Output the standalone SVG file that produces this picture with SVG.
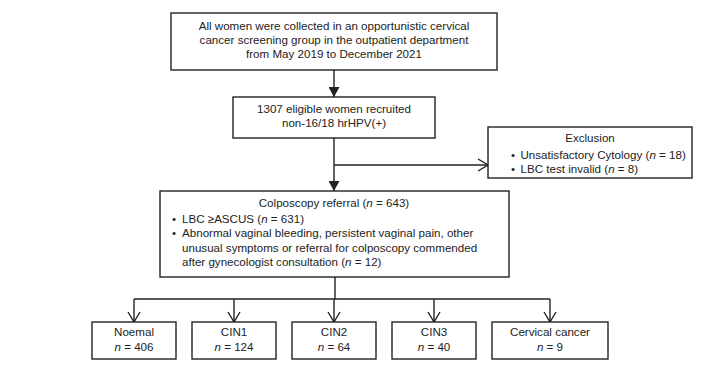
<svg xmlns="http://www.w3.org/2000/svg" width="725" height="366" viewBox="0 0 725 366">
<style>
  .box{fill:#fff;stroke:#222;stroke-width:1.4}
  .ln{fill:none;stroke:#222;stroke-width:1.4}
  text{font-family:"Liberation Sans",Arial,sans-serif;font-size:11.6px;fill:#222}
  .c{text-anchor:middle}
  .i{font-style:italic}
</style>
<defs>
  <marker id="af" viewBox="0 0 10 11" refX="10" refY="5.5" markerWidth="10" markerHeight="11" markerUnits="userSpaceOnUse" orient="auto">
    <path d="M0,0 L10,5.5 L0,11 z" fill="#222"/>
  </marker>
  <marker id="ao" viewBox="-1 -1 12 14" refX="10" refY="6" markerWidth="12" markerHeight="14" markerUnits="userSpaceOnUse" orient="auto">
    <path d="M0,0 L10,6 L0,12" fill="none" stroke="#222" stroke-width="1.4"/>
  </marker>
</defs>
<rect width="725" height="366" fill="#fff"/>
<g id="connectors">
  <line class="ln" x1="334" y1="70" x2="334" y2="97" marker-end="url(#af)"/>
  <line class="ln" x1="334" y1="138" x2="334" y2="191" marker-end="url(#af)"/>
  <line class="ln" x1="334" y1="165" x2="488" y2="165" marker-end="url(#ao)"/>
  <line class="ln" x1="335" y1="277" x2="335" y2="299"/>
  <line class="ln" x1="134" y1="299" x2="550" y2="299"/>
  <line class="ln" x1="134" y1="299" x2="134" y2="322" marker-end="url(#ao)"/>
  <line class="ln" x1="234" y1="299" x2="234" y2="322" marker-end="url(#ao)"/>
  <line class="ln" x1="334" y1="299" x2="334" y2="322" marker-end="url(#ao)"/>
  <line class="ln" x1="434" y1="299" x2="434" y2="322" marker-end="url(#ao)"/>
  <line class="ln" x1="550" y1="299" x2="550" y2="322" marker-end="url(#ao)"/>
</g>
<g id="node-start">
  <rect class="box" x="171" y="13" width="326" height="57"/>
  <text class="c" x="334" y="29.5">All women were collected in an opportunistic cervical</text>
  <text class="c" x="334" y="43.5">cancer screening group in the outpatient department</text>
  <text class="c" x="334" y="57.5">from May 2019 to December 2021</text>
</g>
<g id="node-eligible">
  <rect class="box" x="233" y="97" width="202" height="41"/>
  <text class="c" x="334" y="113">1307 eligible women recruited</text>
  <text class="c" x="334" y="127">non-16/18 hrHPV(+)</text>
</g>
<g id="node-exclusion">
  <rect class="box" x="488" y="127" width="204" height="51"/>
  <text class="c" x="590" y="141.5">Exclusion</text>
  <text x="511" y="159">•</text>
  <text x="520.5" y="159">Unsatisfactory Cytology (<tspan class="i">n</tspan> = 18)</text>
  <text x="511" y="173">•</text>
  <text x="520.5" y="173">LBC test invalid (<tspan class="i">n</tspan> = 8)</text>
</g>
<g id="node-colposcopy">
  <rect class="box" x="160" y="191" width="349" height="86"/>
  <text class="c" x="334" y="207">Colposcopy referral (<tspan class="i">n</tspan> = 643)</text>
  <text x="172" y="222.5">•</text>
  <text x="182" y="222.5">LBC ≥ASCUS (<tspan class="i">n</tspan> = 631)</text>
  <text x="172" y="237">•</text>
  <text x="182" y="237">Abnormal vaginal bleeding, persistent vaginal pain, other</text>
  <text x="182" y="251.5">unusual symptoms or referral for colposcopy commended</text>
  <text x="182" y="266">after gynecologist consultation (<tspan class="i">n</tspan> = 12)</text>
</g>
<g id="node-normal">
  <rect class="box" x="92" y="322" width="84" height="37"/>
  <text class="c" x="134" y="336">Noemal</text>
  <text class="c" x="134" y="350.5"><tspan class="i">n</tspan> = 406</text>
</g>
<g id="node-cin1">
  <rect class="box" x="192" y="322" width="84" height="37"/>
  <text class="c" x="234" y="336">CIN1</text>
  <text class="c" x="234" y="350.5"><tspan class="i">n</tspan> = 124</text>
</g>
<g id="node-cin2">
  <rect class="box" x="292" y="322" width="84" height="37"/>
  <text class="c" x="334" y="336">CIN2</text>
  <text class="c" x="334" y="350.5"><tspan class="i">n</tspan> = 64</text>
</g>
<g id="node-cin3">
  <rect class="box" x="392" y="322" width="84" height="37"/>
  <text class="c" x="434" y="336">CIN3</text>
  <text class="c" x="434" y="350.5"><tspan class="i">n</tspan> = 40</text>
</g>
<g id="node-cancer">
  <rect class="box" x="492" y="322" width="116" height="37"/>
  <text class="c" x="550" y="336">Cervical cancer</text>
  <text class="c" x="550" y="350.5"><tspan class="i">n</tspan> = 9</text>
</g>
</svg>
